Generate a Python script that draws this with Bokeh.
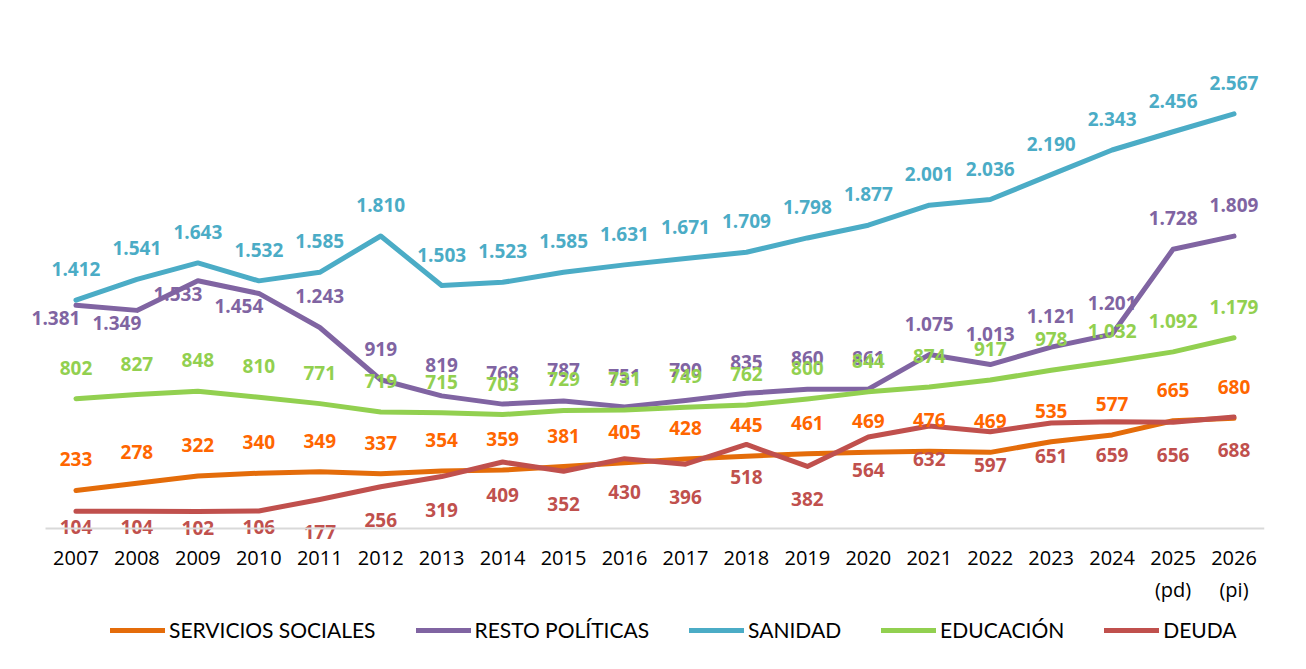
from bokeh.plotting import figure
from bokeh.models import Range1d, FixedTicker, Legend, LegendItem, ColumnDataSource
from bokeh.core.properties import value
from bokeh.embed import file_html
from bokeh.resources import INLINE

years = list(range(2007, 2027))
tick_labels = ["2007", "2008", "2009", "2010", "2011", "2012", "2013", "2014", "2015", "2016",
               "2017", "2018", "2019", "2020", "2021", "2022", "2023", "2024", "2025\n(pd)", "2026\n(pi)"]

servicios_sociales = [233, 278, 322, 340, 349, 337, 354, 359, 381, 405, 428, 445, 461, 469, 476, 469, 535, 577, 665, 680]
resto_politicas = [1381, 1349, 1533, 1454, 1243, 919, 819, 768, 787, 751, 790, 835, 860, 861, 1075, 1013, 1121, 1201, 1728, 1809]
sanidad = [1412, 1541, 1643, 1532, 1585, 1810, 1503, 1523, 1585, 1631, 1671, 1709, 1798, 1877, 2001, 2036, 2190, 2343, 2456, 2567]
educacion = [802, 827, 848, 810, 771, 719, 715, 703, 729, 731, 749, 762, 800, 844, 874, 917, 978, 1032, 1092, 1179]
deuda = [104, 104, 102, 106, 177, 256, 319, 409, 352, 430, 396, 518, 382, 564, 632, 597, 651, 659, 656, 688]

series_names = ["SERVICIOS SOCIALES", "RESTO POLÍTICAS", "SANIDAD", "EDUCACIÓN", "DEUDA"]
series_values = [servicios_sociales, resto_politicas, sanidad, educacion, deuda]
line_colors = ["#E46C0A", "#8064A2", "#4BACC6", "#92D050", "#C0504D"]
label_colors = ["#FF6600", "#8064A2", "#4BACC6", "#92D050", "#C0504D"]

NUM_FONT = "Open Sans"
LEG_FONT = "Lato"

p = figure(width=1290, height=653, output_backend="svg", toolbar_location=None,
           x_range=Range1d(2006.09, 2026.5), y_range=Range1d(-759, 3158),
           min_border_left=20, min_border_right=26, min_border_top=18, min_border_bottom=3)
p.outline_line_color = None
p.xgrid.visible = False
p.ygrid.visible = False
p.yaxis.visible = False
p.background_fill_color = "white"
p.border_fill_color = "white"

ax = p.xaxis[0]
ax.fixed_location = 0
ax.bounds = (2006.5, 2026.5)
ax.ticker = FixedTicker(ticks=years)
ax.major_label_overrides = {y: lab for y, lab in zip(years, tick_labels)}
ax.axis_line_color = "#D9D9D9"
ax.axis_line_width = 2
ax.major_tick_line_color = None
ax.minor_tick_line_color = None
ax.major_label_text_font = NUM_FONT
ax.major_label_text_font_size = "20px"
ax.major_label_text_color = "#000000"
ax.major_label_standoff = 10

def fmt(v):
    return f"{v:,}".replace(",", ".")

renderers = []
for name, vals, col in zip(series_names, series_values, line_colors):
    r = p.line(years, vals, line_color=col, line_width=5, line_cap="round", line_join="round")
    renderers.append(r)

for idx, (name, vals, col) in enumerate(zip(series_names, series_values, label_colors)):
    xo, yo = [], []
    for i, v in enumerate(vals):
        if name == "DEUDA":
            xo.append(0)
            yo.append(16 if v < 150 else 33)
        elif name == "RESTO POLÍTICAS" and i < 4:
            xo.append(-20)
            yo.append(13)
        else:
            xo.append(0)
            yo.append(-31)
    src = ColumnDataSource(dict(x=years, y=vals, t=[fmt(v) for v in vals], xo=xo, yo=yo))
    p.text(x="x", y="y", text="t", x_offset="xo", y_offset="yo", source=src,
           text_font=value(NUM_FONT), text_font_style="bold", text_font_size="19px",
           text_color=col, text_align="center", text_baseline="middle")

legend = Legend(items=[LegendItem(label=n, renderers=[r]) for n, r in zip(series_names, renderers)],
                orientation="horizontal", location=(90, 8))
legend.label_text_font = LEG_FONT
legend.label_text_font_size = "21px"
legend.label_text_color = "#000000"
legend.glyph_width = 55
legend.glyph_height = 20
legend.label_height = 20
legend.label_standoff = 4
legend.spacing = 40
legend.padding = 0
legend.margin = 0
legend.border_line_color = None
legend.background_fill_alpha = 0
p.add_layout(legend)

open("out.html", "w").write(file_html(p, INLINE))
